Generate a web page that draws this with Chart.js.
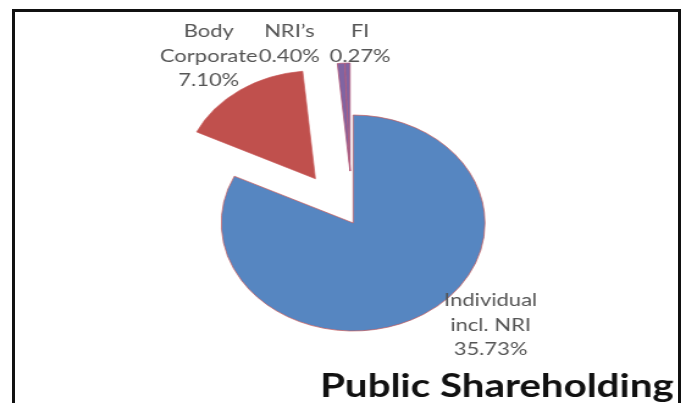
<!DOCTYPE html>
<html>
<head>
<meta charset="utf-8">
<script src="https://cdn.jsdelivr.net/npm/chart.js@4/dist/chart.umd.min.js"></script>
<style>
	html, body { margin: 0; padding: 0; background: #fff; overflow: hidden; }
	body { width: 686px; height: 403px; position: relative; }
	#frame {
		position: absolute; left: 12px; top: 9px; width: 669px; height: 420px;
		box-sizing: border-box; border: 3px solid #111; border-bottom: none;
	}
	/* the original picture is stretched sideways, so the pie is an ellipse */
	#wrap {
		position: absolute; left: 0; top: 0; width: 562px; height: 403px;
		transform: scaleX(1.2206); transform-origin: 0 0;
	}
</style>
</head>
<body>
<div id="frame"></div>
<div id="wrap"><canvas id="pie" width="562" height="403"></canvas></div>
<script>
	// chart data
	var categories = ["Individual incl. NRI", "Body Corporate", "NRI\u2019s", "FI"];
	var shares = [35.73, 7.10, 0.40, 0.27];
	var labelLines = [["Individual", "incl. NRI"], ["Body", "Corporate"], ["NRI\u2019s"], ["FI"]];
	var colours = ["#5686c1", "#c0504d", "#8064a2", "#8064a2"];
	var edgeColours = ["rgba(200,90,90,0.7)", "rgba(200,90,90,0.7)", "rgba(180,90,120,0.8)", "rgba(180,90,120,0.8)"];
	// how far each slice is pulled out of the pie, px; slices in one group move together
	var explode = [0, 54, 52, 52];
	var explodeGroup = [0, 1, 2, 2];
	var pieRadius = 108;
	var chartTitle = "Public Shareholding";

	// where each label block sits, in pie radii from the centre
	var labelAnchors = [[1.043, 0.944], [-1.095, -1.546], [-0.484, -1.662], [0.053, -1.662]];

	// pull slices out by moving the arc itself (chart.js offset squeezes thin slices away)
	var explodePlugin = {
		id: "explode",
		afterUpdate: function(chart){
			var arcs = chart.getDatasetMeta(0).data;
			var span = {};
			for (var i = 0; i < arcs.length; i++){
				var g = explodeGroup[i];
				if (!span[g]) span[g] = [arcs[i].startAngle, arcs[i].endAngle];
				span[g][0] = Math.min(span[g][0], arcs[i].startAngle);
				span[g][1] = Math.max(span[g][1], arcs[i].endAngle);
			}
			for (var k = 0; k < arcs.length; k++){
				var s = span[explodeGroup[k]];
				var half = (s[0] + s[1]) / 2;
				arcs[k].x += Math.cos(half) * explode[k];
				arcs[k].y += Math.sin(half) * explode[k];
			}
		}
	};

	var labelPlugin = {
		id: "pieLabels",
		afterDraw: function(chart){
			var ctx = chart.ctx;
			var area = chart.chartArea;
			var ox = (area.left + area.right) / 2;
			var oy = (area.top + area.bottom) / 2;
			ctx.save();
			ctx.textAlign = "center";
			ctx.textBaseline = "middle";
			ctx.fillStyle = "#555";
			ctx.font = "18px Lato";
			for (var i = 0; i < shares.length; i++){
				var lines = labelLines[i].concat([shares[i].toFixed(2) + "%"]);
				var lh = 24.5;
				var cx = ox + labelAnchors[i][0] * pieRadius;
				var cy = oy + labelAnchors[i][1] * pieRadius - (lines.length - 1) * lh / 2;
				for (var j = 0; j < lines.length; j++){
					ctx.fillText(lines[j], cx, cy + j * lh);
				}
			}
			// title, bottom right
			ctx.textAlign = "right";
			ctx.textBaseline = "alphabetic";
			ctx.fillStyle = "#111";
			ctx.font = "bold 33px Lato";
			ctx.fillText(chartTitle, chart.width - 10, 397);
			ctx.restore();
		}
	};

	new Chart(document.getElementById("pie"), {
		type: "pie",
		data: {
			labels: categories,
			datasets: [{
				data: shares,
				backgroundColor: colours,
				borderColor: edgeColours,
				borderWidth: 1,
				radius: pieRadius
			}]
		},
		options: {
			responsive: false,
			animation: false,
			layout: { padding: { left: 40, right: 23.4, top: 60, bottom: 17 } },
			plugins: {
				legend: { display: false },
				tooltip: { enabled: false },
				title: { display: false }
			}
		},
		plugins: [explodePlugin, labelPlugin]
	});
</script>
</body>
</html>
